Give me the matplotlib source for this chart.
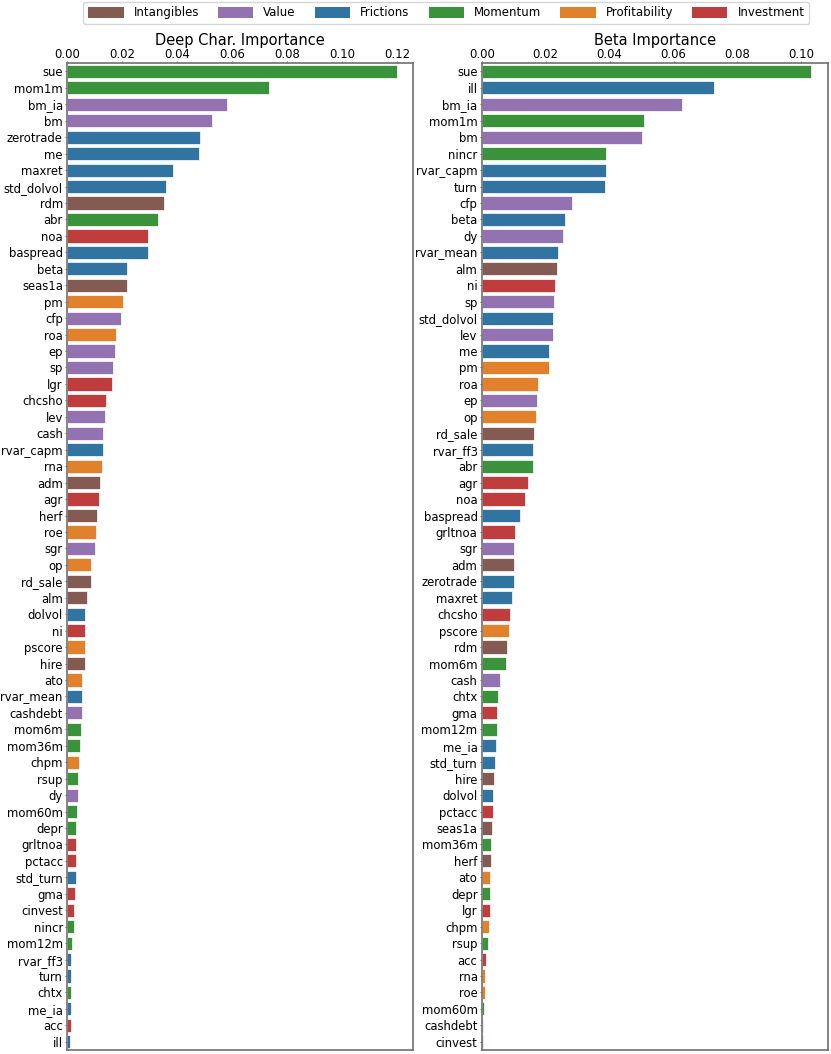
import matplotlib
matplotlib.use('Agg')
import matplotlib.pyplot as plt
from matplotlib.patches import Patch
import numpy as np

# groupes de caractéristiques
groups = ['Intangibles', 'Value', 'Frictions', 'Momentum', 'Profitability', 'Investment']
group_colors = ['#845b53', '#9372b2', '#3274a1', '#3a923a', '#e1812c', '#c03d3e']

intangibles = ['rdm', 'seas1a', 'adm', 'herf', 'rd_sale', 'alm', 'hire']
value = ['bm_ia', 'bm', 'cfp', 'ep', 'sp', 'lev', 'cash', 'sgr', 'cashdebt', 'dy']
frictions = ['zerotrade', 'me', 'maxret', 'std_dolvol', 'baspread', 'beta', 'rvar_capm',
             'dolvol', 'rvar_mean', 'std_turn', 'rvar_ff3', 'turn', 'me_ia', 'ill']
momentum = ['sue', 'mom1m', 'abr', 'mom6m', 'mom36m', 'rsup', 'mom60m', 'depr',
            'nincr', 'mom12m', 'chtx']
profitability = ['pm', 'roa', 'rna', 'roe', 'op', 'pscore', 'ato', 'chpm']
investment = ['noa', 'lgr', 'chcsho', 'agr', 'ni', 'grltnoa', 'pctacc', 'gma', 'cinvest', 'acc']

# importance "Deep Char."
deep_names = ['sue', 'mom1m', 'bm_ia', 'bm', 'zerotrade', 'me', 'maxret', 'std_dolvol',
              'rdm', 'abr', 'noa', 'baspread', 'beta', 'seas1a', 'pm', 'cfp', 'roa', 'ep',
              'sp', 'lgr', 'chcsho', 'lev', 'cash', 'rvar_capm', 'rna', 'adm', 'agr',
              'herf', 'roe', 'sgr', 'op', 'rd_sale', 'alm', 'dolvol', 'ni', 'pscore',
              'hire', 'ato', 'rvar_mean', 'cashdebt', 'mom6m', 'mom36m', 'chpm', 'rsup',
              'dy', 'mom60m', 'depr', 'grltnoa', 'pctacc', 'std_turn', 'gma', 'cinvest',
              'nincr', 'mom12m', 'rvar_ff3', 'turn', 'chtx', 'me_ia', 'acc', 'ill']
deep_values = [0.1198, 0.0735, 0.0580, 0.0526, 0.0484, 0.0479, 0.0384, 0.0360,
               0.0353, 0.0330, 0.0296, 0.0295, 0.0220, 0.0217, 0.0205, 0.0198, 0.0178, 0.0173,
               0.0169, 0.0164, 0.0143, 0.0137, 0.0132, 0.0132, 0.0129, 0.0119, 0.0116,
               0.0110, 0.0107, 0.0101, 0.0087, 0.0087, 0.0072, 0.0067, 0.0067, 0.0066,
               0.0064, 0.0056, 0.0055, 0.0055, 0.0050, 0.0046, 0.0045, 0.0041,
               0.0040, 0.0038, 0.0034, 0.0034, 0.0032, 0.0031, 0.0029, 0.0025,
               0.0024, 0.0017, 0.0016, 0.0016, 0.0015, 0.0013, 0.0013, 0.0012]

# importance "Beta"
beta_names = ['sue', 'ill', 'bm_ia', 'mom1m', 'bm', 'nincr', 'rvar_capm', 'turn', 'cfp',
              'beta', 'dy', 'rvar_mean', 'alm', 'ni', 'sp', 'std_dolvol', 'lev', 'me', 'pm',
              'roa', 'ep', 'op', 'rd_sale', 'rvar_ff3', 'abr', 'agr', 'noa', 'baspread',
              'grltnoa', 'sgr', 'adm', 'zerotrade', 'maxret', 'chcsho', 'pscore', 'rdm',
              'mom6m', 'cash', 'chtx', 'gma', 'mom12m', 'me_ia', 'std_turn', 'hire',
              'dolvol', 'pctacc', 'seas1a', 'mom36m', 'herf', 'ato', 'depr', 'lgr', 'chpm',
              'rsup', 'acc', 'rna', 'roe', 'mom60m', 'cashdebt', 'cinvest']
beta_values = [0.1031, 0.0727, 0.0626, 0.0507, 0.0501, 0.0388, 0.0388, 0.0387, 0.0281,
               0.0262, 0.0255, 0.0240, 0.0237, 0.0229, 0.0227, 0.0223, 0.0222, 0.0211, 0.0210,
               0.0176, 0.0173, 0.0169, 0.0164, 0.0161, 0.0160, 0.0145, 0.0134, 0.0120,
               0.0104, 0.0102, 0.0102, 0.0101, 0.0095, 0.0089, 0.0086, 0.0079,
               0.0076, 0.0056, 0.0051, 0.0049, 0.0048, 0.0044, 0.0041, 0.0039,
               0.0035, 0.0035, 0.0033, 0.0029, 0.0029, 0.0027, 0.0027, 0.0026, 0.0024,
               0.0019, 0.0013, 0.0010, 0.0009, 0.0006, 0.0005, 0.0003]

members = [intangibles, value, frictions, momentum, profitability, investment]
color_of = {}
for grp, col in zip(members, group_colors):
    for name in grp:
        color_of[name] = col


def draw_panel(ax, names, values, title):
    y = np.arange(len(names))
    ax.barh(y, values, height=0.8, color=[color_of[n] for n in names],
            edgecolor='white', linewidth=0.5)
    ax.set_yticks(y)
    ax.set_yticklabels(names)
    ax.set_ylim(len(names) - 0.5, -0.5)
    ax.set_xlim(0, max(values) * 1.05)
    ax.xaxis.tick_top()
    ax.set_title(title, fontsize=10.5, pad=0)
    for s in ax.spines.values():
        s.set_color('#707070')
        s.set_linewidth(1.2)
    ax.tick_params(colors='#707070', labelcolor='black', labelsize=8.4, length=1.8, pad=1.2)
    ax.tick_params(axis='x', length=1.2, pad=0.3)


fig = plt.figure(figsize=(8.31, 10.54), dpi=100)
ax1 = fig.add_axes([0.0806, 0.0038, 0.4164, 0.9362])
ax2 = fig.add_axes([0.5797, 0.0038, 0.4164, 0.9362])

draw_panel(ax1, deep_names, deep_values, 'Deep Char. Importance')
draw_panel(ax2, beta_names, beta_values, 'Beta Importance')

handles = [Patch(facecolor=c, label=g) for g, c in zip(groups, group_colors)]
fig.legend(handles=handles, loc='upper center', bbox_to_anchor=(0.537, 1.0), ncol=6,
           fontsize=8.5, handlelength=3.0, handleheight=1.1, handletextpad=0.85,
           columnspacing=1.6, borderpad=0.4, borderaxespad=0.15)

fig.savefig('out.png', dpi=100)
